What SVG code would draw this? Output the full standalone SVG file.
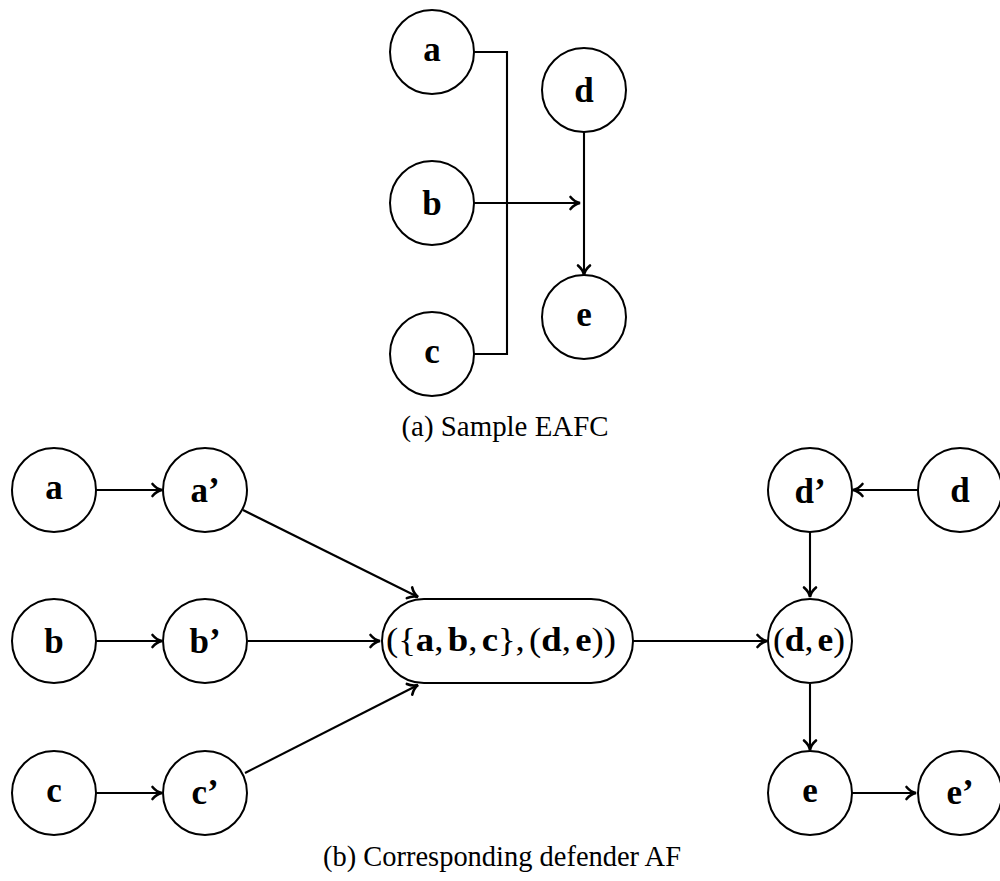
<svg xmlns="http://www.w3.org/2000/svg" width="1000" height="881" viewBox="0 0 1000 881">
<style>
.n{fill:#fff;stroke:#000;stroke-width:2}
.l{font-family:"Liberation Serif",serif;font-weight:bold;font-size:35px;text-anchor:middle;fill:#000}
.m{font-family:"Liberation Serif",serif;font-size:34px;fill:#000}
.m .b{font-weight:bold}
.cap{font-family:"Liberation Serif",serif;font-size:29px;text-anchor:middle;fill:#000}
.e{fill:none;stroke:#000;stroke-width:2.1}
</style>
<defs>
<marker id="ar" markerUnits="userSpaceOnUse" markerWidth="16" markerHeight="16" viewBox="-12 -8 14 16" refX="0" refY="0" orient="auto">
<path d="M-9.5,-6 C-6.5,-2.4 -2.8,-0.6 0,0 C-2.8,0.6 -6.5,2.4 -9.5,6" fill="none" stroke="#000" stroke-width="2.6" stroke-linecap="round"/>
</marker>
</defs>
<g id="connectors">
<path class="e" d="M474,52 H507 V354 H474"/>
<path class="e" d="M474,203 H580" marker-end="url(#ar)"/>
<path class="e" d="M584,132 V275" marker-end="url(#ar)"/>
<path class="e" d="M96,490 H162" marker-end="url(#ar)"/>
<path class="e" d="M96,641 H162" marker-end="url(#ar)"/>
<path class="e" d="M96,793 H162" marker-end="url(#ar)"/>
<path class="e" d="M243,510 L418,597" marker-end="url(#ar)"/>
<path class="e" d="M248,641 H380" marker-end="url(#ar)"/>
<path class="e" d="M245,773 L418,685" marker-end="url(#ar)"/>
<path class="e" d="M633,641 H767" marker-end="url(#ar)"/>
<path class="e" d="M919,490 H853" marker-end="url(#ar)"/>
<path class="e" d="M810,532 V597" marker-end="url(#ar)"/>
<path class="e" d="M810,684 V750" marker-end="url(#ar)"/>
<path class="e" d="M852,793 H916" marker-end="url(#ar)"/>
</g>
<g id="top-a"><circle class="n" cx="432" cy="52" r="42"/><text class="l" x="432" y="61">a</text></g>
<g id="top-b"><circle class="n" cx="432" cy="203" r="42"/><text class="l" x="432" y="215">b</text></g>
<g id="top-c"><circle class="n" cx="432" cy="354" r="42"/><text class="l" x="432" y="363">c</text></g>
<g id="top-d"><circle class="n" cx="584" cy="90" r="42"/><text class="l" x="584" y="102">d</text></g>
<g id="top-e"><circle class="n" cx="584" cy="317" r="42"/><text class="l" x="584" y="326">e</text></g>
<text class="cap" x="505" y="436" textLength="207" lengthAdjust="spacingAndGlyphs">(a) Sample EAFC</text>
<g id="a"><circle class="n" cx="54" cy="490" r="42"/><text class="l" x="54" y="499">a</text></g>
<g id="a1"><circle class="n" cx="205" cy="490" r="42"/><text class="l" x="205" y="502">a’</text></g>
<g id="b"><circle class="n" cx="54" cy="641" r="42"/><text class="l" x="54" y="653">b</text></g>
<g id="b1"><circle class="n" cx="205" cy="641" r="42"/><text class="l" x="205" y="653">b’</text></g>
<g id="c"><circle class="n" cx="54" cy="793" r="42"/><text class="l" x="54" y="802">c</text></g>
<g id="c1"><circle class="n" cx="205" cy="793" r="42"/><text class="l" x="205" y="804">c’</text></g>
<g id="set"><rect class="n" x="382" y="599" width="251" height="84" rx="42" ry="42"/><text class="m" x="386" y="651" textLength="230" lengthAdjust="spacingAndGlyphs">({<tspan class="b">a</tspan>,<tspan dx="4" class="b">b</tspan>,<tspan dx="4" class="b">c</tspan>},<tspan dx="4">(</tspan><tspan class="b">d</tspan>,<tspan dx="4" class="b">e</tspan>))</text></g>
<g id="de"><circle class="n" cx="810" cy="641" r="42"/><text class="m" x="773" y="651" textLength="72" lengthAdjust="spacingAndGlyphs">(<tspan class="b">d</tspan>,<tspan dx="4" class="b">e</tspan>)</text></g>
<g id="d1"><circle class="n" cx="810" cy="490" r="42"/><text class="l" x="810" y="503">d’</text></g>
<g id="d"><circle class="n" cx="960" cy="490" r="42"/><text class="l" x="960" y="502">d</text></g>
<g id="e"><circle class="n" cx="810" cy="793" r="42"/><text class="l" x="810" y="802">e</text></g>
<g id="e1"><circle class="n" cx="960" cy="793" r="42"/><text class="l" x="960" y="804">e’</text></g>
<text class="cap" x="502" y="866" textLength="358" lengthAdjust="spacingAndGlyphs">(b) Corresponding defender AF</text>
</svg>
